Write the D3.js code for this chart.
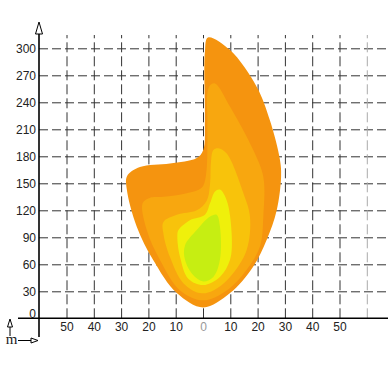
<!DOCTYPE html>
<html>
<head>
<meta charset="utf-8">
<script src="https://cdn.jsdelivr.net/npm/d3@7"></script>
<style>
  html, body { margin: 0; padding: 0; background: #fff; }
  svg { display: block; font-family: "Liberation Sans", Arial, sans-serif; }
</style>
</head>
<body>
<div id="chart"></div>
<script>
// tick values (metres)
const xTicks = [-50, -40, -30, -20, -10, 0, 10, 20, 30, 40, 50];
const xGrid = [-50, -40, -30, -20, -10, 0, 10, 20, 30, 40, 50, 60];
const yTicks = [0, 30, 60, 90, 120, 150, 180, 210, 240, 270, 300];

// contour outlines, [x, y] in metres, outer to inner
const band1 = [[1.8, 312], [9.9, 298], [19.7, 257], [24.5, 220], [28.2, 176], [28.6, 157],
  [27.0, 120], [23.3, 87], [18.3, 57], [9.9, 28], [0.1, 12], [-9.6, 28], [-18.3, 65],
  [-24.3, 102], [-27.9, 143], [-27.8, 158], [-23.1, 168], [-12.1, 172], [-2.3, 178],
  [0.1, 187], [0.7, 220], [0.7, 296]];
const band2 = [[2.6, 259], [4.4, 261], [9.9, 235], [18.4, 187], [22.1, 157], [22.1, 113],
  [20.9, 80], [16.0, 54], [8.7, 31], [0.1, 20], [-8.4, 31], [-15.8, 65], [-20.6, 98],
  [-22.1, 128], [-19.4, 134], [-14.5, 135], [-6.0, 139], [-0.5, 145], [1.1, 159],
  [1.6, 220], [1.6, 250]];
const band3 = [[3.8, 187], [5.6, 189], [8.7, 183], [14.8, 139], [17.2, 113], [16.0, 76],
  [9.9, 46], [3.8, 31], [-1.1, 28], [-7.2, 39], [-12.1, 68], [-14.5, 94], [-14.5, 107],
  [-9.6, 115], [-2.3, 120], [1.4, 131], [2.6, 150], [2.9, 173]];
const band4 = [[-9.0, 98], [-4.8, 109], [0.7, 115], [2.6, 128], [4.4, 141], [6.2, 143],
  [8.7, 131], [10.5, 94], [9.9, 65], [6.2, 46], [0.1, 37], [-5.4, 44], [-8.4, 68], [-9.4, 91]];
const band5 = [[-6.6, 81], [-2.3, 98], [2.6, 113], [5.0, 115], [6.2, 102], [6.2, 65],
  [3.8, 46], [0.1, 41], [-3.6, 48], [-6.6, 65]];

const bands = [band1, band2, band3, band4, band5];
const bandColours = ["#f5940f", "#f8a70f", "#f8c30b", "#eff00b", "#c6ee12"];

const w = 388;
const h = 388;

const svg = d3.select("#chart").append("svg").attr("width", w).attr("height", h);

const xScale = d3.scaleLinear().domain([-50, 50]).range([66.5, 339.5]);
const yScale = d3.scaleLinear().domain([0, 300]).range([318.3, 48.3]);

const axisX = 39;

// grid
svg.append("g")
  .attr("transform", `translate(${axisX},0)`)
  .call(d3.axisLeft(yScale).tickValues(yTicks.slice(1)).tickSize(-(w - axisX)).tickFormat(""))
  .call((g) => g.select(".domain").remove())
  .selectAll("line")
  .attr("stroke", "#333")
  .attr("stroke-dasharray", "9,4");

svg.append("g")
  .attr("transform", `translate(0,${yScale(0)})`)
  .call(d3.axisTop(xScale).tickValues(xGrid).tickSize(yScale(0) - 35).tickFormat(""))
  .call((g) => g.select(".domain").remove())
  .selectAll("line")
  .attr("stroke", (d) => (d === 60 ? "#aaa" : "#333"))
  .attr("stroke-dasharray", "10,4");

// contour bands
const area = d3.line()
  .x((d) => xScale(d[0]))
  .y((d) => yScale(d[1]))
  .curve(d3.curveCatmullRomClosed.alpha(0.5));

svg.append("g")
  .selectAll("path")
  .data(bands)
  .join("path")
  .attr("d", area)
  .attr("fill", (d, i) => bandColours[i]);

// tick labels
svg.append("g")
  .attr("transform", `translate(${axisX},0)`)
  .call(d3.axisLeft(yScale).tickValues(yTicks).tickSize(0).tickPadding(3))
  .call((g) => g.select(".domain").remove())
  .call((g) => g.selectAll("text")
    .attr("font-size", 12)
    .attr("font-family", "Liberation Sans, Arial, sans-serif")
    .attr("fill", "#222")
    .filter((d) => d === 0)
    .attr("y", -5));

svg.append("g")
  .attr("transform", `translate(0,${yScale(0)})`)
  .call(d3.axisBottom(xScale).tickValues(xTicks).tickSize(0).tickPadding(4)
    .tickFormat((d) => Math.abs(d)))
  .call((g) => g.select(".domain").remove())
  .call((g) => g.selectAll("text")
    .attr("font-size", 12)
    .attr("font-family", "Liberation Sans, Arial, sans-serif")
    .attr("fill", (d) => (d === 0 ? "#999" : "#222")));

// axis lines
svg.append("line")
  .attr("x1", 18).attr("x2", w)
  .attr("y1", yScale(0)).attr("y2", yScale(0))
  .attr("stroke", "#000").attr("stroke-width", 1.6);

svg.append("line")
  .attr("x1", axisX).attr("x2", axisX)
  .attr("y1", 34).attr("y2", 337)
  .attr("stroke", "#000").attr("stroke-width", 1.6);

svg.append("path")
  .attr("d", `M${axisX},22 L${axisX - 3.5},34 L${axisX + 3.5},34 Z`)
  .attr("fill", "#fff").attr("stroke", "#000").attr("stroke-width", 1);

// unit marker
const mark = svg.append("g").attr("stroke", "#000").attr("fill", "#fff").attr("stroke-width", 1);
mark.append("line").attr("x1", 10).attr("x2", 10).attr("y1", 327).attr("y2", 336);
mark.append("path").attr("d", "M10,319 L7.5,327 L12.5,327 Z");
mark.append("line").attr("x1", 18).attr("x2", 31).attr("y1", 340.5).attr("y2", 340.5);
mark.append("path").attr("d", "M38,340.5 L31,338 L31,343 Z");

svg.append("text")
  .attr("x", 11.5).attr("y", 344)
  .attr("text-anchor", "middle")
  .attr("font-family", "Liberation Serif, Times New Roman, serif")
  .attr("font-size", 15)
  .attr("fill", "#222")
  .text("m");
</script>
</body>
</html>
